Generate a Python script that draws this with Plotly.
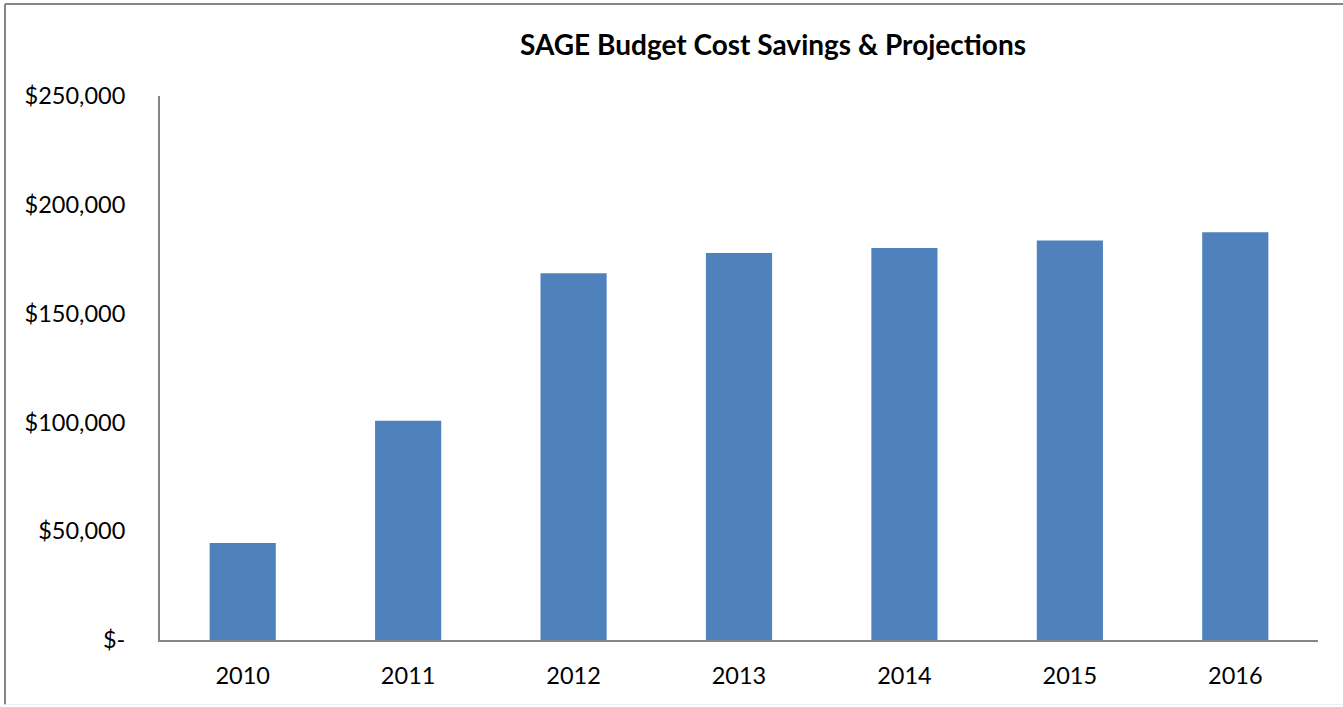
import plotly.graph_objects as go

years = ["2010", "2011", "2012", "2013", "2014", "2015", "2016"]
savings = [44600, 100800, 168600, 177800, 180100, 183600, 187400]
tick_vals = [0, 50000, 100000, 150000, 200000, 250000]
tick_text = ["$-", "$50,000", "$100,000", "$150,000", "$200,000", "$250,000"]
title_text = "SAGE Budget Cost Savings & Projections"

W, H = 1343, 707
L, R, T, B = 160, 25, 96, 66.5
pw, ph = W - L - R, H - T - B

def px_x(x):
    return (x - L) / pw

def px_y(y):
    return (H - B - y) / ph

font = "Lato, Calibri, Carlito, sans-serif"

fig = go.Figure(go.Bar(x=years, y=savings, marker=dict(color="#4F81BD", line=dict(width=0)),
                       hoverinfo="x+y"))

fig.update_layout(
    width=W, height=H,
    margin=dict(l=L, r=R, t=T, b=B),
    paper_bgcolor="white", plot_bgcolor="white",
    bargap=0.6,
    showlegend=False,
    font=dict(family=font, size=23.5, color="black"),
    xaxis=dict(showline=True, linecolor="#868686", linewidth=2, showgrid=False,
               ticks="", ticklabelstandoff=14, tickfont=dict(size=23.5)),
    yaxis=dict(range=[0, 250000], showline=True, linecolor="#868686", linewidth=2,
               showgrid=False, zeroline=False, ticks="", tickvals=tick_vals, ticktext=tick_text,
               ticklabelstandoff=28, tickfont=dict(size=23.5)),
    annotations=[dict(text="<b>" + title_text + "</b>", xref="paper", yref="paper",
                      x=px_x(773), y=px_y(44), xanchor="center", yanchor="middle",
                      showarrow=False, font=dict(size=28, family=font, color="black"))],
    shapes=[
        dict(type="line", xref="paper", yref="paper", x0=px_x(5), x1=px_x(1345), y0=px_y(4), y1=px_y(4),
             line=dict(color="#868686", width=2)),
        dict(type="line", xref="paper", yref="paper", x0=px_x(5), x1=px_x(5), y0=px_y(4), y1=px_y(705),
             line=dict(color="#868686", width=2)),
        dict(type="line", xref="paper", yref="paper", x0=px_x(5), x1=px_x(1345), y0=px_y(705), y1=px_y(705),
             line=dict(color="#EEEEEE", width=1)),
    ],
)

fig.write_html("out.html", config={"displayModeBar": False},
               post_script="document.body.style.margin='0';document.body.style.overflow='hidden';")
